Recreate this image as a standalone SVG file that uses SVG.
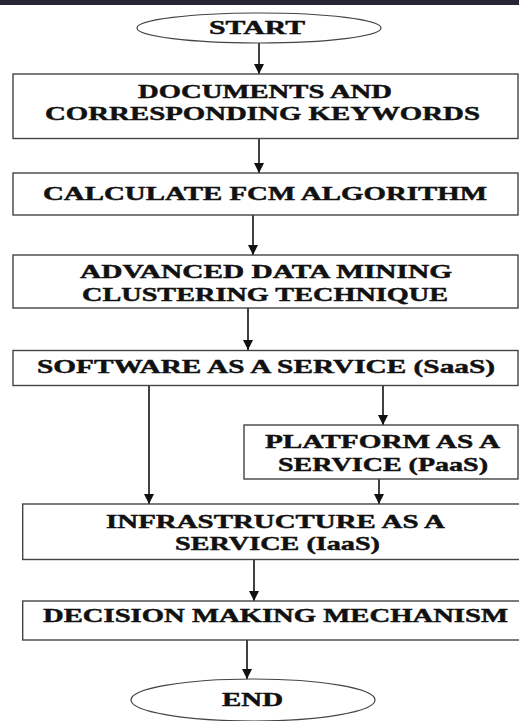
<svg xmlns="http://www.w3.org/2000/svg" width="519" height="721" viewBox="0 0 519 721">
  <defs>
    <marker id="arrow" markerUnits="userSpaceOnUse" markerWidth="11" markerHeight="10" refX="10" refY="5" orient="auto">
      <path d="M0,0 L10,5 L0,10 Z" fill="#111"/>
    </marker>
    <style>
      .box { fill: #fff; stroke: #444; stroke-width: 1.4; }
      .oval { fill: #fff; stroke: #444; stroke-width: 1.2; }
      .lbl { font-family: "Liberation Serif", "Times New Roman", serif; font-weight: bold; font-size: 19px; fill: #111; stroke: #111; stroke-width: 0.45; }
      .conn { stroke: #111; stroke-width: 1.6; fill: none; marker-end: url(#arrow); }
    </style>
  </defs>

  <rect x="0" y="0" width="519" height="721" fill="#fff"/>
  <rect x="0" y="0" width="519" height="5" fill="#262637"/>

  <g id="connectors">
    <line class="conn" x1="259" y1="43" x2="259" y2="74"/>
    <line class="conn" x1="259" y1="139" x2="259" y2="173"/>
    <line class="conn" x1="253" y1="215" x2="253" y2="255"/>
    <line class="conn" x1="248" y1="308" x2="248" y2="350"/>
    <line class="conn" x1="149" y1="386" x2="149" y2="504"/>
    <line class="conn" x1="383" y1="386" x2="383" y2="425"/>
    <line class="conn" x1="379" y1="479" x2="379" y2="504"/>
    <line class="conn" x1="254" y1="560" x2="254" y2="601"/>
    <line class="conn" x1="247" y1="640" x2="247" y2="679"/>
  </g>

  <g id="start">
    <ellipse class="oval" cx="259" cy="28" rx="122" ry="15"/>
    <text class="lbl" x="209" y="34" textLength="96" lengthAdjust="spacingAndGlyphs">START</text>
  </g>

  <g id="documents">
    <rect class="box" x="13" y="74" width="505" height="64.5"/>
    <text class="lbl" x="138" y="98" textLength="254" lengthAdjust="spacingAndGlyphs">DOCUMENTS AND</text>
    <text class="lbl" x="45" y="120" textLength="435" lengthAdjust="spacingAndGlyphs">CORRESPONDING KEYWORDS</text>
  </g>

  <g id="fcm">
    <rect class="box" x="13" y="173" width="505" height="42"/>
    <text class="lbl" x="43" y="200" textLength="444" lengthAdjust="spacingAndGlyphs">CALCULATE FCM ALGORITHM</text>
  </g>

  <g id="clustering">
    <rect class="box" x="13" y="255" width="505" height="53"/>
    <text class="lbl" x="80" y="278" textLength="372" lengthAdjust="spacingAndGlyphs">ADVANCED DATA MINING</text>
    <text class="lbl" x="82" y="301" textLength="366" lengthAdjust="spacingAndGlyphs">CLUSTERING TECHNIQUE</text>
  </g>

  <g id="saas">
    <rect class="box" x="13" y="350.5" width="505" height="35"/>
    <text class="lbl" x="37" y="373" textLength="458" lengthAdjust="spacingAndGlyphs">SOFTWARE AS A SERVICE (SaaS)</text>
  </g>

  <g id="paas">
    <rect class="box" x="244" y="425" width="274" height="54"/>
    <text class="lbl" x="265" y="448" textLength="235" lengthAdjust="spacingAndGlyphs">PLATFORM AS A</text>
    <text class="lbl" x="278" y="471" textLength="210" lengthAdjust="spacingAndGlyphs">SERVICE (PaaS)</text>
  </g>

  <g id="iaas">
    <rect class="box" x="22.7" y="504" width="510" height="55.5"/>
    <text class="lbl" x="106" y="528" textLength="339" lengthAdjust="spacingAndGlyphs">INFRASTRUCTURE AS A</text>
    <text class="lbl" x="175" y="550" textLength="205" lengthAdjust="spacingAndGlyphs">SERVICE (IaaS)</text>
  </g>

  <g id="decision">
    <rect class="box" x="22.7" y="601" width="510" height="39"/>
    <text class="lbl" x="43" y="622" textLength="465" lengthAdjust="spacingAndGlyphs">DECISION MAKING MECHANISM</text>
  </g>

  <g id="end">
    <ellipse class="oval" cx="253" cy="700" rx="122" ry="21"/>
    <text class="lbl" x="222" y="706" textLength="61" lengthAdjust="spacingAndGlyphs">END</text>
  </g>
</svg>
